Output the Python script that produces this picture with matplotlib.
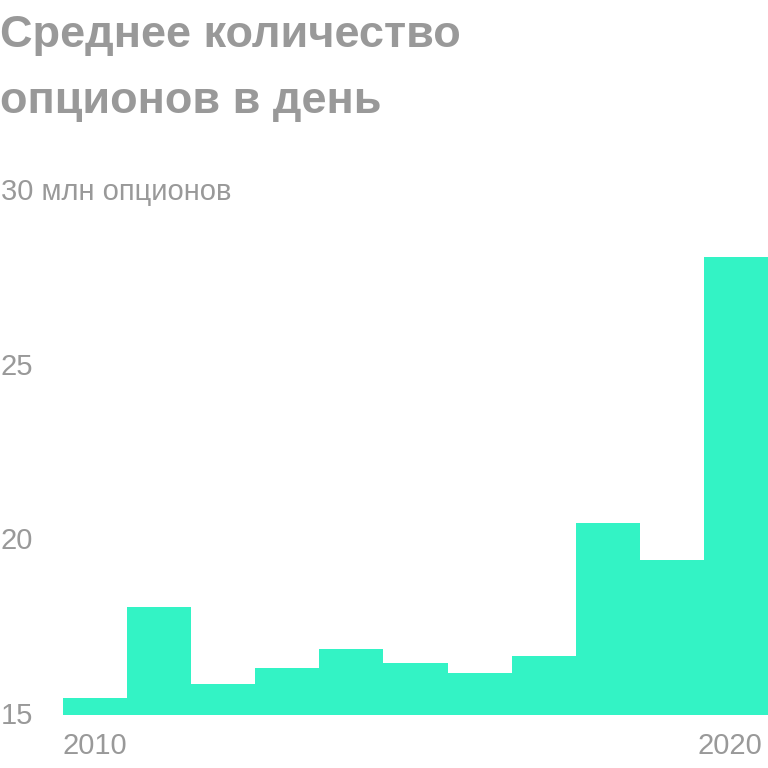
import matplotlib
matplotlib.use("Agg")
import matplotlib.pyplot as plt
import matplotlib.transforms as mtransforms

years = [2010, 2011, 2012, 2013, 2014, 2015, 2016, 2017, 2018, 2019, 2020]
options_mln = [15.5, 18.1, 15.9, 16.35, 16.9, 16.5, 16.2, 16.7, 20.5, 19.45, 28.1]
y_ticks = [15, 20, 25, 30]
y_labels = ["15", "20", "25", "30 млн опционов"]

TITLE_LINES = ["Среднее количество", "опционов в день"]
BAR_COLOR = "#33f3c5"
GRAY = "#999999"
W = H = 768

plt.rcParams["font.family"] = ["Liberation Sans", "DejaVu Sans"]

fig = plt.figure(figsize=(W / 100, H / 100), dpi=100)
ax = fig.add_axes([63 / W, 53 / H, 705 / W, (715 - 191) / H])

ax.bar(years, options_mln, width=1.0, color=BAR_COLOR, linewidth=0)
ax.set_xlim(years[0] - 0.5, years[-1] + 0.5)
ax.set_ylim(15, 30)
ax.axis("off")

# y labels sit at the left edge of the figure
trans = mtransforms.blended_transform_factory(fig.transFigure, ax.transData)
for v, lab in zip(y_ticks, y_labels):
    ax.text(1 / W, v - 0.03, lab, transform=trans, ha="left", va="center",
            fontsize=21, color=GRAY, clip_on=False)

# first and last year under the bars
ax.text(years[0] - 0.5, 14.1, str(years[0]), ha="left", va="center",
        fontsize=21, color=GRAY, clip_on=False)
ax.text(years[-1] + 0.41, 14.1, str(years[-1]), ha="right", va="center",
        fontsize=21, color=GRAY, clip_on=False)

fig.text(0, 1 - 47 / H, TITLE_LINES[0], ha="left", va="baseline",
         fontsize=32.5, fontweight="bold", color=GRAY)
fig.text(0, 1 - 113 / H, TITLE_LINES[1], ha="left", va="baseline",
         fontsize=32.5, fontweight="bold", color=GRAY)

fig.savefig("out.png", dpi=100)
